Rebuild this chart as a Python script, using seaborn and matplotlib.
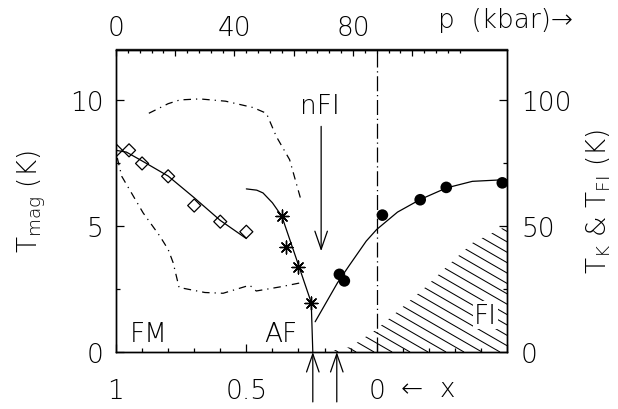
import numpy as np
import seaborn as sns
import matplotlib.pyplot as plt
from matplotlib.ticker import FixedLocator, FuncFormatter
from matplotlib.collections import LineCollection

# FM: T_mag vs x (open diamonds and fit)
fm_x = [1.0, 0.95, 0.90, 0.80, 0.70, 0.60, 0.50]
fm_T = [8.0, 8.0, 7.48, 6.97, 5.81, 5.17, 4.77]
fm_fit_x = [1.0, 0.96, 0.90, 0.80, 0.70, 0.60, 0.50]
fm_fit_T = [8.0, 7.93, 7.58, 6.98, 6.12, 5.22, 4.5]

# AF: T_mag vs x (asterisks and guide line)
af_x = [0.364, 0.349, 0.300, 0.251]
af_T = [5.39, 4.16, 3.39, 1.96]
af_line_x = [0.50, 0.46, 0.436, 0.40, 0.364, 0.30, 0.251, 0.245]
af_line_T = [6.47, 6.42, 6.31, 5.92, 5.39, 3.45, 1.96, 0.0]

# dash-dot boundaries
dome_x = [0.874, 0.80, 0.755, 0.679, 0.58, 0.475, 0.423, 0.385, 0.334, 0.289]
dome_T = [9.47, 9.85, 10.0, 10.04, 9.95, 9.70, 9.47, 8.55, 7.63, 5.98]
low_x = [0.995, 0.978, 0.896, 0.832, 0.800, 0.781, 0.758, 0.659, 0.589, 0.487, 0.462, 0.372, 0.289]
low_T = [7.7, 6.97, 5.52, 4.60, 4.07, 3.55, 2.56, 2.36, 2.33, 2.65, 2.42, 2.58, 2.75]

# T_K (filled circles) and T_FI region, right axis in K
tk_x = [0.143, 0.124, -0.022, -0.167, -0.267, -0.482]
tk_T = [30.8, 28.2, 54.3, 60.4, 65.3, 67.1]
tk_fit_x = [0.236, 0.15, 0.104, 0.04, 0.0, -0.08, -0.167, -0.268, -0.367, -0.5]
tk_fit_T = [12.0, 27.5, 34.5, 44.0, 48.6, 55.5, 60.5, 65.1, 67.7, 68.4]
fi_x = [0.194, 0.10, 0.05, 0.0, -0.09, -0.19, -0.27, -0.37, -0.44, -0.5]
fi_T = [0.0, 2.0, 5.5, 9.0, 17.0, 26.0, 34.0, 43.5, 47.0, 50.0]

arrow_x = [0.245, 0.153]
kbar_per_x = 88.0

sns.set_style("ticks")
plt.rcParams["font.family"] = ["DejaVu Sans"]
plt.rcParams["font.weight"] = "light"
plt.rcParams["axes.labelweight"] = "light"
plt.rcParams["font.size"] = 19
plt.rcParams["mathtext.fontset"] = "custom"
plt.rcParams["mathtext.rm"] = "DejaVu Sans:light"
plt.rcParams["text.color"] = "black"
plt.rcParams["axes.labelcolor"] = "black"
plt.rcParams["xtick.color"] = "black"
plt.rcParams["ytick.color"] = "black"

fig = plt.figure(figsize=(6.18, 4.10), dpi=100)
ax = fig.add_axes([116 / 618, 57 / 410, 391 / 618, 302.5 / 410])
ax2 = ax.twinx()

dd = (6, 4, 1, 4)
sns.lineplot(x=dome_x, y=dome_T, sort=False, estimator=None, color="black",
             lw=0.9, ax=ax).lines[-1].set_dashes(dd)
sns.lineplot(x=low_x, y=low_T, sort=False, estimator=None, color="black",
             lw=0.9, ax=ax).lines[-1].set_dashes(dd)
ax.axvline(0, color="black", lw=0.9, dashes=(12, 3, 1, 3))

sns.lineplot(x=fm_fit_x, y=fm_fit_T, sort=False, estimator=None, color="black", lw=0.9, ax=ax)
sns.scatterplot(x=fm_x, y=fm_T, marker="D", s=44, facecolor="none",
                edgecolor="black", linewidth=0.9, ax=ax, zorder=3)
sns.lineplot(x=af_line_x, y=af_line_T, sort=False, estimator=None, color="black", lw=0.9, ax=ax)
sns.scatterplot(x=af_x, y=af_T, marker=(8, 2, 0), s=85, color="black",
                linewidth=1.0, ax=ax, zorder=3)

# T_FI region with slanted hatching
poly = ax2.fill_between(fi_x, fi_T, 0, facecolor="none", edgecolor="none", lw=0)
starts = np.arange(-1.6, 1.2, 0.046)
segs = [[(c, 1.0), (c + 1.34, 0.0)] for c in starts]
hatch = LineCollection(segs, colors="black", linewidths=0.75, transform=ax2.transAxes)
ax2.add_collection(hatch, autolim=False)
hatch.set_clip_path(poly.get_paths()[0], ax2.transData)

sns.lineplot(x=tk_fit_x, y=tk_fit_T, sort=False, estimator=None, color="black", lw=0.9, ax=ax2)
sns.scatterplot(x=tk_x, y=tk_T, s=70, color="black", edgecolor="none", ax=ax2, zorder=3)

ax.set_xlim(1, -0.5)
ax.set_ylim(0, 12)
ax2.set_ylim(0, 120)

ax.xaxis.set_major_locator(FixedLocator([1, 0.5, 0, -0.5]))
ax.xaxis.set_major_formatter(FuncFormatter(lambda v, p: {1: "1", 0.5: "0.5", 0: "0"}.get(round(v, 2), "")))
ax.xaxis.set_minor_locator(FixedLocator(np.arange(-0.5, 1.01, 0.1)))
ax.yaxis.set_major_locator(FixedLocator([0, 5, 10]))
ax.yaxis.set_minor_locator(FixedLocator([2.5, 7.5]))
ax2.yaxis.set_major_locator(FixedLocator([0, 50, 100]))
ax2.yaxis.set_minor_locator(FixedLocator([25, 75]))

ax.tick_params(which="both", direction="in", top=False, right=False, width=0.9)
ax.tick_params(axis="x", which="major", length=6, pad=19)
ax.tick_params(axis="x", which="minor", length=3)
ax.tick_params(axis="y", which="major", length=6, pad=9)
ax.tick_params(axis="y", which="minor", length=3)
ax2.tick_params(which="both", direction="in", width=0.9)
ax2.tick_params(which="major", length=6, pad=10)
ax2.tick_params(which="minor", length=3)

top = ax.secondary_xaxis("top", functions=(lambda x: (1 - x) * kbar_per_x,
                                           lambda p: 1 - p / kbar_per_x))
top.xaxis.set_major_locator(FixedLocator([0, 20, 40, 60, 80, 100]))
top.xaxis.set_major_formatter(FuncFormatter(lambda v, p: f"{v:.0f}" if round(v) in (0, 40, 80) else ""))
top.xaxis.set_minor_locator(FixedLocator(np.arange(0, 117, 4)))
top.tick_params(which="both", direction="in", width=0.9, pad=7)
top.tick_params(which="major", length=5)
top.tick_params(which="minor", length=3)

for a in (ax, ax2):
    for s in a.spines.values():
        s.set_linewidth(1.0)
        s.set_color("black")
top.spines["top"].set_linewidth(1.0)

ax.set_xlabel("")
ax2.set_xlabel("")
ax.set_ylabel(r"T$_{\rm mag}$ (K)")
ax2.set_ylabel(r"T$_{\rm K}$ & T$_{\rm FI}$ (K)")
ax.yaxis.set_label_coords(-0.174, 0.5)
ax2.yaxis.set_label_coords(1.199, 0.5)

ax.text(0.946, 0.45, "FM")
ax.text(0.430, 0.45, "AF")
ax2.text(-0.374, 11.7, "FI", bbox=dict(facecolor="white", edgecolor="none", pad=1))
ax.text(0.219, 9.49, "nFI", ha="center")

arrow_style = dict(arrowstyle="->,head_length=1.3,head_width=0.45", color="black",
                   mutation_scale=10, lw=0.9, shrinkA=0, shrinkB=0)
ax.annotate("", xy=(0.213, 4.0), xytext=(0.213, 8.95), arrowprops=arrow_style)
for xa in arrow_x:
    ax.annotate("", xy=(xa, 0), xytext=(xa, -1.98), annotation_clip=False,
                arrowprops=arrow_style)
ax.text(-0.094, -1.46, "←  x", va="center", clip_on=False)
ax.text(0.824, 1.099, "p  (kbar)→", transform=ax.transAxes, va="center")

fig.savefig("out.png", dpi=100)
